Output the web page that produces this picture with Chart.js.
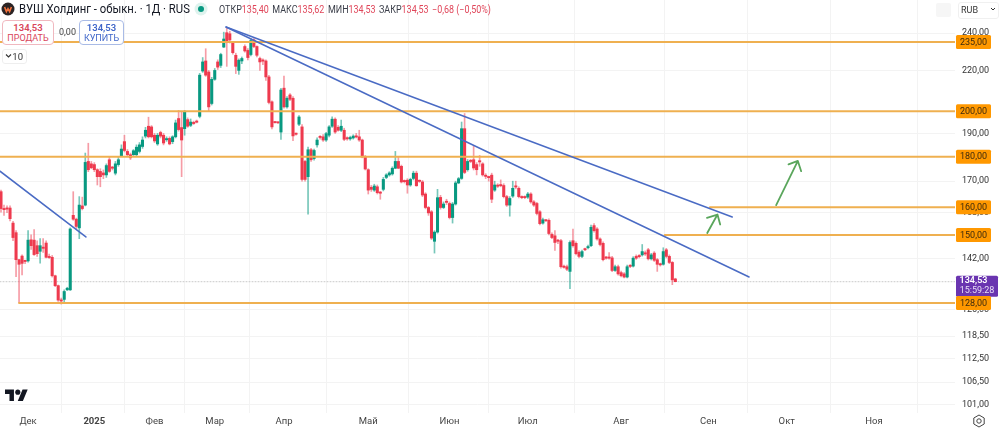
<!DOCTYPE html>
<html lang="ru">
<head>
<meta charset="utf-8">
<title>ВУШ Холдинг</title>
<script src="https://cdn.jsdelivr.net/npm/chart.js@4/dist/chart.umd.min.js"></script>
<style>
  html, body { margin: 0; padding: 0; background: #fff; }
  body { width: 1000px; height: 432px; position: relative; overflow: hidden; font-family: Roboto, sans-serif; color: #131722; }
  canvas { position: absolute; left: 0; top: 0; }
  .abs { position: absolute; white-space: nowrap; }
  .quote { top: 3px; left: 219px; font-size: 10px; line-height: 13px; color: #3b3f4a; transform: scaleX(.895); transform-origin: left center; }
  .quote b { font-weight: 400; color: #e0465a; margin-right: 4px; }
  .btn { border: 1px solid; border-radius: 4px; text-align: center; font-size: 9px; line-height: 11px; padding-top: 1px; box-sizing: border-box; }
  .btn strong { display: block; font-weight: 600; font-size: 9.5px; }
</style>
</head>
<body>
<canvas id="chart" width="1000" height="432"></canvas>

<svg class="abs" style="left:1px;top:2px" width="14" height="14" viewBox="0 0 14 14">
  <circle cx="7" cy="7" r="6.5" fill="#2b2424"/>
  <path d="M3.6 5 L5.4 9.6 L7 6.6 L8.6 9.6 L10.4 5" fill="none" stroke="#f0713c" stroke-width="1.6"/>
</svg>
<div class="abs" style="left:19px;top:0px;font-size:13px;line-height:18px;transform:scaleX(.87);transform-origin:left center">ВУШ Холдинг - обыкн. · 1Д · RUS</div>
<svg class="abs" style="left:194px;top:2px" width="14" height="14" viewBox="0 0 14 14">
  <circle cx="7" cy="7" r="6.5" fill="#dff3ee"/><circle cx="7" cy="7" r="3" fill="#089981"/>
</svg>
<div class="abs quote">ОТКР<b>135,40</b>МАКС<b>135,62</b>МИН<b>134,53</b>ЗАКР<b>134,53</b><b>−0,68 (−0,50%)</b></div>

<div class="abs btn" style="left:2px;top:20px;width:52px;height:25px;border-color:#f0b8bf;color:#d9455a;background:#fff"><strong>134,53</strong>ПРОДАТЬ</div>
<div class="abs" style="left:59px;top:26px;font-size:9px;line-height:12px;color:#444">0,00</div>
<div class="abs btn" style="left:79px;top:20px;width:45px;height:25px;border-color:#a9bbe6;color:#3f66c9;background:#fff"><strong>134,53</strong>КУПИТЬ</div>
<div class="abs" style="left:2px;top:49px;width:25px;height:15px;border:1px solid #eeeeee;border-radius:3px;box-sizing:border-box;background:#fff;font-size:9.5px;line-height:13px;color:#333;text-align:right;padding-right:3px">10</div>
<svg class="abs" style="left:5px;top:53px" width="7" height="6" viewBox="0 0 7 6"><path d="M1 1.5 L3.5 4 L6 1.5" fill="none" stroke="#333" stroke-width="1.1"/></svg>

<svg class="abs" style="left:5px;top:387px" width="23" height="18" viewBox="0 0 36 28">
  <path d="M14 22H7V11H0V4h14v18zM28 22h-8l7.5-18h8L28 22z" fill="#131722"/><circle cx="20" cy="8" r="4" fill="#131722"/>
</svg>
<svg class="abs" style="left:972px;top:414px" width="14" height="14" viewBox="0 0 14 14">
  <path d="M7 1 L12.2 4 V10 L7 13 L1.8 10 V4 Z" fill="none" stroke="#444" stroke-width="1"/><circle cx="7" cy="7" r="2.2" fill="none" stroke="#444" stroke-width="1"/>
</svg>

<div class="abs" style="left:936px;top:3px;width:15px;height:14px;background:#f6f6f6;border-radius:2px"></div>
<div class="abs" style="left:958px;top:2px;width:41px;height:17px;border:1px solid #f0f0f0;border-radius:3px;box-sizing:border-box;font-size:9px;line-height:15px;padding-left:2px;color:#333">RUB</div>
<svg class="abs" style="left:990px;top:7px" width="6" height="5" viewBox="0 0 6 5"><path d="M1 1 L3 3 L5 1" fill="none" stroke="#333" stroke-width="1"/></svg>

<script>
// Daily candles, oldest first
const opens = [
  165.9,159.5,159.7,159.7,154.2,150.8,141.6,142.8,141.2,141.2,
  148.3,148.2,146.3,144.4,145.6,147.2,142.7,142.4,136.4,133.3,
  128.9,129.1,132,132,157,155.6,152.5,160.5,160.8,178,
  177,176.7,174.6,173.9,173.3,172.5,178.7,175.4,173.2,176.7,
  180.4,186.4,182.2,180.8,180.8,180.8,182.2,184.3,188.8,193.2,
  192.9,189.2,185.4,190.4,189.2,187.2,187.8,186.4,188.5,196.7,
  192.6,192.1,196.2,193.6,194.7,195.5,197.7,219.7,224.9,219.2,
  203.7,215.5,224.4,222.6,232.3,240.2,239.6,234.4,227.9,220,
  224.9,232.6,230.5,228.3,236.2,232.6,226.2,225.3,224.9,216.7,
  204.5,195,194.9,190.6,211.1,202.1,207.8,206.2,189.8,194.1,
  192.9,178,171.8,182.9,179.2,185,188.4,188.5,187.1,189.2,
  193.2,196.4,192.7,191.4,191.4,187.8,187.6,188,188.6,188.5,
  187.1,179.9,174.6,167.6,166.5,167.8,165.5,166.8,171.5,172.5,
  172.9,175.2,178,176,170.1,170.4,168.5,171.1,173.2,170.1,
  169.7,165,159.9,158.3,147.8,151,163.7,159.9,162,161.4,
  156.2,161.2,169.3,171.1,192.1,174.6,178.2,178.7,176.7,178,
  177,172.1,171.6,172.4,166.5,168.2,168.4,168.3,164,160.8,
  164.2,167.9,167.2,163.8,163.8,163.8,165,162,161.4,158.3,
  154.2,155.2,155.2,150.2,149.7,148,148,139.3,139.3,137.8,
  148,147.1,144.1,142.7,145.1,145.6,146.3,153.3,152.1,148.6,
  147.1,142.3,142.3,142.2,138.1,139.3,137.4,137,136,139.6,
  139.5,142.7,142.8,143.2,143.8,144.9,141.9,143.8,141.6,140.1,
  140.1,144.9,142.7,140.7,135.4
];
const highs = [
  166.5,160.8,160.5,160.5,154.8,151.5,141.7,143.2,141.5,151.5,
  150,151.9,148,148.7,148.7,148,143.5,143,136.6,133.5,
  129.5,132,132.8,152.5,165.9,156,164,163.8,181.5,185.7,
  178,177.5,175,175,174.5,177,180,176,178,180,
  185,189.2,183,181.5,183,185,186,188.5,192.7,197.3,
  193.5,190,190,191,190,188.5,188.5,189,196,200.5,
  199.7,200.5,197,196.5,195.5,196,218.5,226.7,231.4,220,
  216.5,221,225.5,229,240.5,243,241,235,229,226,
  227,233.5,231.5,237,237,233,227,226,225.5,217.5,
  205,195.2,195.1,211,217.1,207,208.5,207,190.2,198,
  194,178.5,184,183.5,183.2,188,189,189.5,190.5,193.5,
  197.5,197,193.5,196,192.3,188.5,188.8,189.4,190,191.4,
  187.5,180.5,175,168.3,168.8,168.5,166,171.5,173,173.8,
  175.8,182.2,180,176.5,170.5,171,171.2,174,174,170.5,
  170.3,165.5,160.3,158.8,151.5,166.8,164.5,162,163,162,
  161.8,170,171.5,195.1,199,178.8,178.8,184.6,177.5,180.5,
  177.5,173,172,173.2,170,169,170.5,169,164.5,164,
  170,170,167.8,164.3,164.3,165.6,165.5,162.5,161.8,158.8,
  156,155.5,155.7,150.7,151.5,148.5,148.5,139.8,139.8,148,
  152.1,147.6,144.6,144.8,145.5,146.5,153.5,154,152.6,149,
  147.6,142.7,144,142.7,139.8,139.8,137.9,137.4,139.8,140,
  142.6,143.2,143.3,146.7,144.5,145.4,143.7,144.3,142,140.5,
  145.6,145.4,143.2,141,135.62
];
const lows = [
  158.2,157,158,155,148,136.1,128.1,136.7,140.3,140.8,
  145,143,142.7,140.5,144,142.2,142,136,133,128.5,
  127.7,128.2,131.8,131.8,155.2,152.2,148.7,159,160.5,173.8,
  175,173.8,168.5,167.8,171,171.5,173.5,174.5,172.5,176,
  180,182,180.3,178.8,180.5,180.3,181.5,183.5,188,188,
  188,186,184.8,188,185,186.5,185,185.5,188,191,
  171.8,189.2,192.7,193,194,194.7,197,219,217,200.1,
  203,215,220.5,221.5,232,222.1,234.5,228.5,218.4,218,
  223.5,229.5,225.5,227.5,232,227,220,223,215,203.5,
  192,194.6,194.5,187.4,201.5,201.5,205,186.8,189.2,193.5,
  170,170,157.4,178,178.5,184,187.5,186.5,186.5,188.5,
  192.7,190,191,190.8,186.8,187,187,187.5,188,186.5,
  179.5,174.5,165,166,166,165,163,166.2,171,172,
  172.4,175,175,169.3,169.3,165.3,168,170.5,168,169.5,
  164,159.4,157,148.4,143.8,150.6,159.3,159.5,161,155.7,
  154.2,160.8,169,170.7,173,174,177.5,174.5,172.5,176,
  172,171,170,161.7,166,167.5,167.8,163.5,160.3,156.7,
  163.7,167,163.5,163.2,163.2,163.3,161.5,160.3,157.2,153.5,
  153.8,154.8,150,148.7,144.7,147,138.8,138.8,138,132.4,
  145.8,143.2,142.2,142.3,144.6,145.2,146,151,148.2,146.2,
  141.2,141.8,141.8,137.7,137.8,136.6,136,135.7,135.7,139,
  139.2,141.7,142.2,142.8,143,141.5,141.5,141,137.8,139.5,
  139.8,142.2,140.3,133.6,134.53
];
const closes = [
  159.5,159.1,159.3,155.8,149.1,141.6,140.1,140.4,141,148.2,
  146.3,143.3,143.6,146.3,145.4,142.4,142.3,136.4,133.3,128.9,
  128.6,131.5,132.5,152.1,155.6,153,160.8,159.5,177.6,174.6,
  175.4,174.6,171.8,171.8,172.5,176.3,173.9,175.2,177,178.7,
  183.2,182.6,180.8,179.5,182.5,184,185,187.1,191.4,188.5,
  188.5,186.7,189.2,188.8,185.8,187.6,185.4,188.5,194.7,191.7,
  187.1,199.7,193.2,195.1,194.4,195,217.6,224.4,217.6,202.1,
  215.5,220,221.7,228.3,236.7,234.9,236.2,229.3,222.1,225.3,
  226.2,230.2,226.7,235.8,232.6,227.9,224.4,224.8,216.7,204.2,
  192.9,194.8,194.7,210.2,202.1,206.2,205.7,188.9,189.6,197.4,
  170.7,170.7,182.9,178.7,182.6,187.1,188.2,187.1,189.9,192.9,
  196.4,190.6,191.4,193.2,187.4,187.6,188.2,188.8,188.4,187.1,
  179.9,174.9,166.5,166.8,168.1,165.5,165.3,170.7,172.5,173.3,
  175.2,178,175.2,169.7,169.8,168.5,170.7,173.2,168.2,169.9,
  164.6,159.9,157.9,148.9,151,163.6,159.9,161.2,161.8,156.2,
  161.2,169.3,171,192.1,173.5,178,178,175.3,174.6,177.8,
  172.5,171.9,171.4,163,168.5,168,168.2,164,160.8,163.3,
  167.2,167.7,164,163.6,163.6,165,162,160.8,157.7,154,
  155.4,155,150.5,149.1,147.4,147.8,139.3,139.1,138.5,147.4,
  146.3,143.6,142.7,144.3,144.9,146,152.7,151.5,148.6,146.7,
  141.6,142.1,142.1,138.1,139.3,137,136.4,136,139.3,139.4,
  142.1,142.1,142.6,144.3,143.5,141.9,143.2,141.4,140.1,139.9,
  144.3,142.7,140.7,135.1,134.53
];

// Axis marks
const monthBars = [9, 31, 51, 71, 94, 122, 149, 175, 206, 235, 261, 290];
const monthNames = ['Дек', '2025', 'Фев', 'Мар', 'Апр', 'Май', 'Июн', 'Июл', 'Авг', 'Сен', 'Окт', 'Ноя'];
const priceTicks = [240, 220, 200, 190, 180, 170, 158, 150, 142, 126, 118.5, 112.5, 106.5, 101];

// Drawn horizontal levels: value and the bar where each one starts
const levelValues = [235, 200, 180, 160, 150, 128];
const levelStarts = [null, null, null, 235.5, 220.5, 6];
const lastPrice = 134.53;
const countdown = '15:59:28';

// Trend lines and hand-drawn arrows, as [bar, price] pairs
const trendLeft = [[-0.33, 174], [28.2, 149.3]];
const trendUpper = [[74.75, 243.4], [242.9, 156.4]];
const trendLower = [[74.75, 243.4], [248.5, 136]];
const arrowNear = [[234.6, 150.7], [238, 157.3], [234.5, 156.1], [238, 157.3], [238.9, 153.7]];
const arrowFar = [[257.5, 160.8], [264.7, 178.2], [261.6, 176.8], [264.7, 178.2], [265.8, 174]];

const xMin = -0.33, xMax = 316.9;
const yMin = 99.1, yMax = 259.2;
const UP = '#089981', DOWN = '#ee3a4e';
const fmt = v => v.toFixed(2).replace('.', ',');
const pts = list => list.map(p => ({ x: p[0], y: p[1] }));
const lineSet = (data, color, width, extra) => Object.assign({
  type: 'line', data, borderColor: color, borderWidth: width, pointRadius: 0,
  tension: 0, order: 0, borderCapStyle: 'round', borderJoinStyle: 'round'
}, extra || {});

const bars = opens.map((_, i) => i);
const candleColors = bars.map(i => closes[i] >= opens[i] ? UP : DOWN);
const wickColors = bars.map(i => closes[i] >= opens[i] ? 'rgba(8,153,129,.55)' : 'rgba(238,58,78,.5)');

const levelSets = levelValues.map((v, i) => lineSet(
  [{ x: levelStarts[i] === null ? xMin : levelStarts[i], y: v }, { x: xMax, y: v }], '#efb050', 2));

// Coloured tags over the price axis
const tagPlugin = {
  id: 'priceTags',
  afterDraw(chart) {
    const { ctx, scales: { y } } = chart;
    const left = chart.chartArea.right + 1;
    ctx.save();
    ctx.textAlign = 'center';
    ctx.textBaseline = 'middle';
    const drawLevel = v => {
      const py = y.getPixelForValue(v);
      ctx.fillStyle = '#ff9800';
      ctx.beginPath();
      ctx.roundRect(left, py - 7, 35, 14, 1.5);
      ctx.fill();
      ctx.fillStyle = '#3d2a0c';
      ctx.font = '9px Roboto';
      ctx.fillText(fmt(v), left + 17.5, py + 0.5);
    };
    levelValues.filter(v => v !== 128).forEach(drawLevel);
    const py = y.getPixelForValue(lastPrice);
    ctx.fillStyle = '#6a35b0';
    ctx.beginPath();
    ctx.roundRect(left, py - 6, 42, 21, 1.5);
    ctx.fill();
    ctx.fillStyle = '#fff';
    ctx.font = '600 9px Roboto';
    ctx.fillText(fmt(lastPrice), left + 17.5, py - 0.5);
    ctx.font = '9px Roboto';
    ctx.fillStyle = '#e7dcf5';
    ctx.fillText(countdown, left + 21, py + 9);
    drawLevel(128);
    ctx.restore();
  }
};

new Chart(document.getElementById('chart'), {
  type: 'bar',
  data: {
    datasets: [
      lineSet(pts(trendLeft), '#4a6bc4', 1.5),
      lineSet(pts(trendUpper), '#4a6bc4', 1.5),
      lineSet(pts(trendLower), '#4a6bc4', 1.5),
      lineSet(pts(arrowNear), '#5aa65c', 1.8),
      lineSet(pts(arrowFar), '#5aa65c', 1.8),
      ...levelSets,
      lineSet([{ x: xMin, y: lastPrice }, { x: xMax, y: lastPrice }], '#c9c9c9', 1, { borderDash: [1, 2], order: 3 }),
      {
        type: 'bar', data: bars.map(i => ({ x: i, y: [Math.min(opens[i], closes[i]), Math.max(opens[i], closes[i])] })),
        backgroundColor: candleColors, barThickness: 2.4, minBarLength: 1.2, grouped: false, order: 1
      },
      {
        type: 'bar', data: bars.map(i => ({ x: i, y: [lows[i], highs[i]] })),
        backgroundColor: wickColors, barThickness: 1, grouped: false, order: 2
      }
    ]
  },
  options: {
    responsive: false,
    animation: false,
    layout: { padding: 0 },
    plugins: { legend: { display: false }, tooltip: { enabled: false } },
    scales: {
      x: {
        type: 'linear', min: xMin, max: xMax, offset: false,
        afterBuildTicks(scale) { scale.ticks = monthBars.map(value => ({ value })); },
        afterFit(scale) { scale.height = 19; scale.paddingLeft = 0; scale.paddingRight = 0; },
        grid: { color: '#f3f3f3', drawTicks: false, drawOnChartArea: true },
        border: { display: false },
        ticks: {
          autoSkip: false, maxRotation: 0, padding: 3,
          color: '#444',
          font: ctx => ({ family: 'Roboto', size: 9.5, weight: ctx.tick && ctx.tick.value === 31 ? '700' : '400' }),
          callback: value => monthNames[monthBars.indexOf(value)]
        }
      },
      y: {
        type: 'logarithmic', position: 'right', min: yMin, max: yMax,
        afterBuildTicks(scale) { scale.ticks = priceTicks.map(value => ({ value })); },
        afterFit(scale) { scale.width = 45; scale.paddingTop = 0; scale.paddingBottom = 0; },
        grid: { color: '#f3f3f3', drawTicks: false },
        border: { display: false },
        ticks: {
          autoSkip: false, padding: 7, color: '#333', align: 'center',
          font: { family: 'Roboto', size: 9 },
          callback: value => fmt(value)
        }
      }
    }
  },
  plugins: [tagPlugin]
});
</script>
</body>
</html>
